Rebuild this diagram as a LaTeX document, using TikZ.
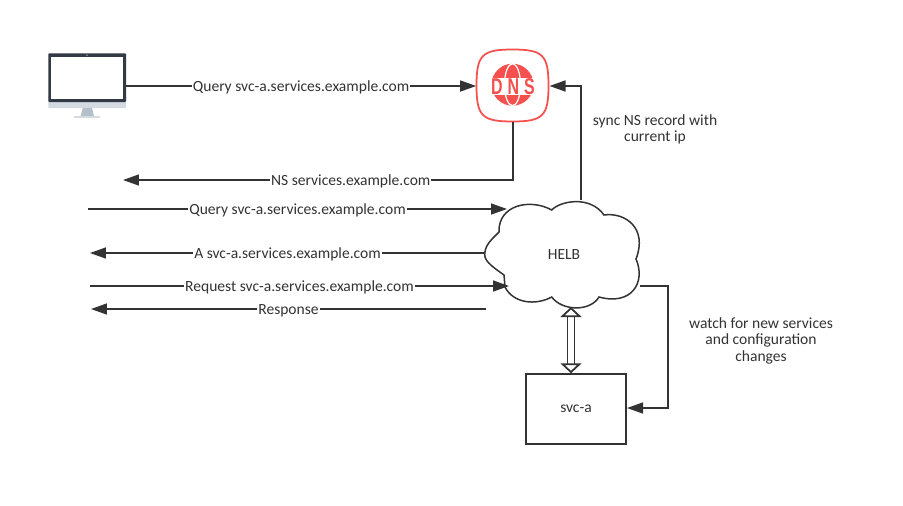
\documentclass[tikz,border=0pt]{standalone}
\usepackage{fontspec}
\setmainfont{Carlito}
\newfontfamily\dnsfont[FakeStretch=.7,LetterSpace=22]{Liberation Sans}
\usetikzlibrary{arrows.meta}
\definecolor{linegray}{HTML}{333333}
\definecolor{dnsred}{HTML}{F5504E}
\definecolor{framedark}{HTML}{333A45}
\definecolor{baselight}{HTML}{D3DAE2}
\definecolor{standgray}{HTML}{B5BFC8}
\tikzset{
  flow/.style={draw=linegray, line width=.85pt, -{Triangle[length=.32cm,width=.22cm]}},
  msg/.style={fill=white, inner sep=.5pt, font=\fontsize{8.85}{10}\selectfont, text=linegray, text depth=0pt, yshift=-.3pt},
  note/.style={align=center, font=\fontsize{8.85}{9.4}\selectfont, text=linegray},
  svcbox/.style={draw=linegray, line width=.85pt, minimum width=2cm, minimum height=1.4cm, font=\fontsize{8.85}{10}\selectfont, text=linegray},
  dnsbox/.style={minimum width=1.46cm, minimum height=1.46cm, inner sep=0pt}
}
\begin{document}
\begin{tikzpicture}[x=.02cm, y=-.02cm]
  \useasboundingbox[fill=white] (0,0) rectangle (903,505);
  % monitor
  \fill[rounded corners=.5pt, baselight] (48.3,95) rectangle (126,108);
  \fill[standgray] (82.7,108) -- (92,108) -- (94,116) -- (80.7,116) -- cycle;
  \fill[baselight] (74,116) rectangle (100,118);
  \fill[rounded corners=.5pt, framedark] (48.3,53.3) rectangle (126,102);
  \fill[white] (50.7,57.3) rectangle (123.3,99.3);
  \fill[standgray] (87,55.2) circle (.015cm);
  \coordinate (screen) at (126,86);
  % dns icon
  \node[dnsbox] (dns) at (513,85.5) {};
  \draw[dnsred, line width=1pt] (512.5,49.5)
    .. controls (543,49.5) and (548.5,55) .. (548.5,85.5)
    .. controls (548.5,116) and (543,121.5) .. (512.5,121.5)
    .. controls (482,121.5) and (476.5,116) .. (476.5,85.5)
    .. controls (476.5,55) and (482,49.5) .. (512.5,49.5) -- cycle;
  \fill[dnsred] (512.5,84.7) circle (.42cm);
  \draw[white, line width=.7pt] (512.5,84.7) ellipse (.16cm and .42cm);
  \fill[white] (489,78) rectangle (536,95);
  \node[inner sep=0pt, text=dnsred, font=\fontsize{13}{13}\dnsfont\bfseries] (dnstext) at (513,86.5) {DNS};
  % cloud
  \draw[linegray, line width=.85pt, fill=white] (551.7,210)
    .. controls (560,201) and (590,195) .. (604,215)
    .. controls (625,212) and (648,228) .. (636,259)
    .. controls (646,282) and (632,306) .. (599,297)
    .. controls (590,312) and (562,311) .. (551.7,297)
    .. controls (535,306) and (513,303) .. (505,287)
    -- (504,275)
    .. controls (490,265) and (483,260) .. (485,251.7)
    .. controls (486,244) and (493,238) .. (499,232)
    .. controls (498,205) and (530,198) .. (551.7,210) -- cycle;
  \node[msg, fill=none] (helb) at (564,254) {HELB};
  \node[svcbox] (svc) at (576,409) {svc-a};
  % free ends of the arrows
  \coordinate (nsend) at (123,180);
  \coordinate (qleft) at (88,209);
  \coordinate (qright) at (507,209);
  \coordinate (aleft) at (90,253);
  \coordinate (aright) at (485,253);
  \coordinate (rleft) at (90,286);
  \coordinate (rright) at (509,286);
  \coordinate (pleft) at (91,309);
  \coordinate (pright) at (486,309);
  \coordinate (synctop) at (581,200);
  \coordinate (cloudout) at (640,286);
  \coordinate (cloudin) at (571,307);
  \coordinate (bend) at (668,286);
  \coordinate (dnsin) at (549.5,86);
  \coordinate (svcin) at (627,408);
  % messages
  \draw[flow] (screen) -- node[msg] (m1) {Query svc-a.services.example.com} (475,86 -| dns.west);
  \draw[flow] (dns.south) |- node[msg, pos=.708] (m2) {NS services.example.com} (nsend);
  \foreach \from/\to/\label in {
    qleft/qright/Query svc-a.services.example.com,
    aright/aleft/A svc-a.services.example.com,
    rleft/rright/Request svc-a.services.example.com,
    pright/pleft/Response
  }{
    \draw[flow] (\from) -- node[msg] (m\from) {\label} (\to);
  }
  \draw[flow] (synctop) |- (dnsin);
  \draw[flow] (cloudout) -- (bend) |- (svcin);
  \draw[draw=linegray, line width=1pt, double=white, double distance=3pt,
    {Triangle[open, fill=white, length=.2cm, width=.42cm]}-{Triangle[open, fill=white, length=.2cm, width=.42cm]}]
    (cloudin) -- (cloudin |- svc.north);
  \node[note] (syncnote) at (655,129.5) {sync NS record with\\current ip};
  \node[note] (watchnote) at (761,340.5) {watch for new services\\and configuration\\changes};
\end{tikzpicture}
\end{document}
